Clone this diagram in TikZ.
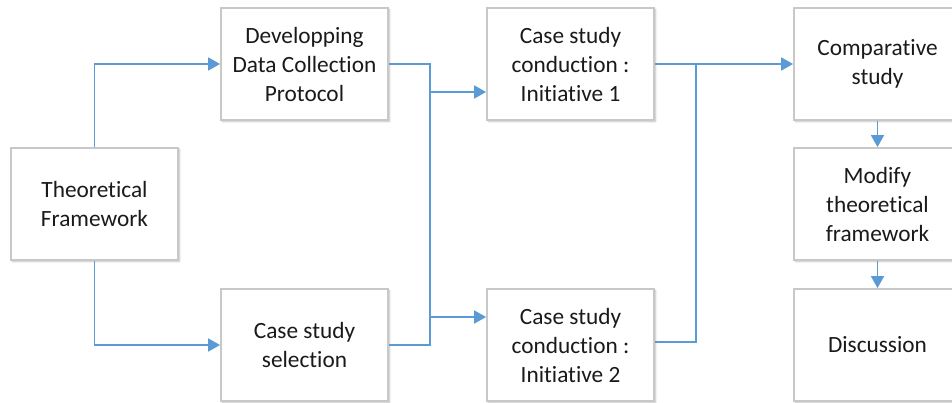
\documentclass[tikz,border=0pt]{standalone}
\usepackage{fontspec}
\setmainfont{Carlito}[Ligatures=NoCommon]
\usetikzlibrary{arrows.meta,shadows.blur,calc}
\definecolor{lineblue}{HTML}{5B9BD5}
\definecolor{boxgray}{HTML}{C8C8C8}
\definecolor{txt}{HTML}{1A1A1A}
\begin{document}
\begin{tikzpicture}[x=1pt,y=-1pt,
  box/.style={draw=boxgray,line width=1.8pt,fill=white,minimum width=167pt,minimum height=112pt,
    align=center,inner sep=0pt,text=txt,font=\fontsize{23.3}{29}\selectfont,
    blur shadow={shadow xshift=1.5pt,shadow yshift=-1.5pt,shadow blur steps=5,shadow opacity=25}},
  link/.style={draw=lineblue,line width=1.8pt,-{Triangle[length=12pt,width=13pt]}},
  plain/.style={draw=lineblue,line width=1.8pt}]
\useasboundingbox (0,0) rectangle (952,403);
\clip (0,0) rectangle (952,403);
\node[box] (tf) at (94.5,204) {Theoretical\\Framework};
\node[box] (dev) at (304.5,64) {Developping\\Data Collection\\Protocol};
\node[box] (sel) at (304.5,345) {Case study\\selection};
\node[box] (i1) at (570.5,64) {Case study\\conduction :\\Initiative 1};
\node[box] (i2) at (570.5,345) {Case study\\conduction :\\Initiative 2};
\node[box] (cmp) at (877.5,64) {Comparative\\study};
\node[box] (mod) at (877.5,204) {Modify\\theoretical\\framework};
\node[box] (dis) at (877.5,345) {Discussion};
\coordinate (ja) at (430,0);
\coordinate (jb) at (696,0);
\coordinate (a1) at ($(i1.west)+(0,28)$);
\coordinate (a2) at ($(i2.west)+(0,-28)$);
\draw[link] (tf.north) |- (dev.west);
\draw[link] (tf.south) |- (sel.west);
\draw[plain] (dev.east) -- (dev.east -| ja) -- (sel.east -| ja) -- (sel.east);
\draw[link] (a1 -| ja) -- (a1);
\draw[link] (a2 -| ja) -- (a2);
\draw[link] (i1.east) -- (cmp.west);
\draw[plain] ($(i2.east)+(0,-3)$) -- ($(i2.east -| jb)+(0,-3)$) -- (i1.east -| jb);
\draw[link] (cmp.south) -- (mod.north);
\draw[link] (mod.south) -- (dis.north);
\end{tikzpicture}
\end{document}
